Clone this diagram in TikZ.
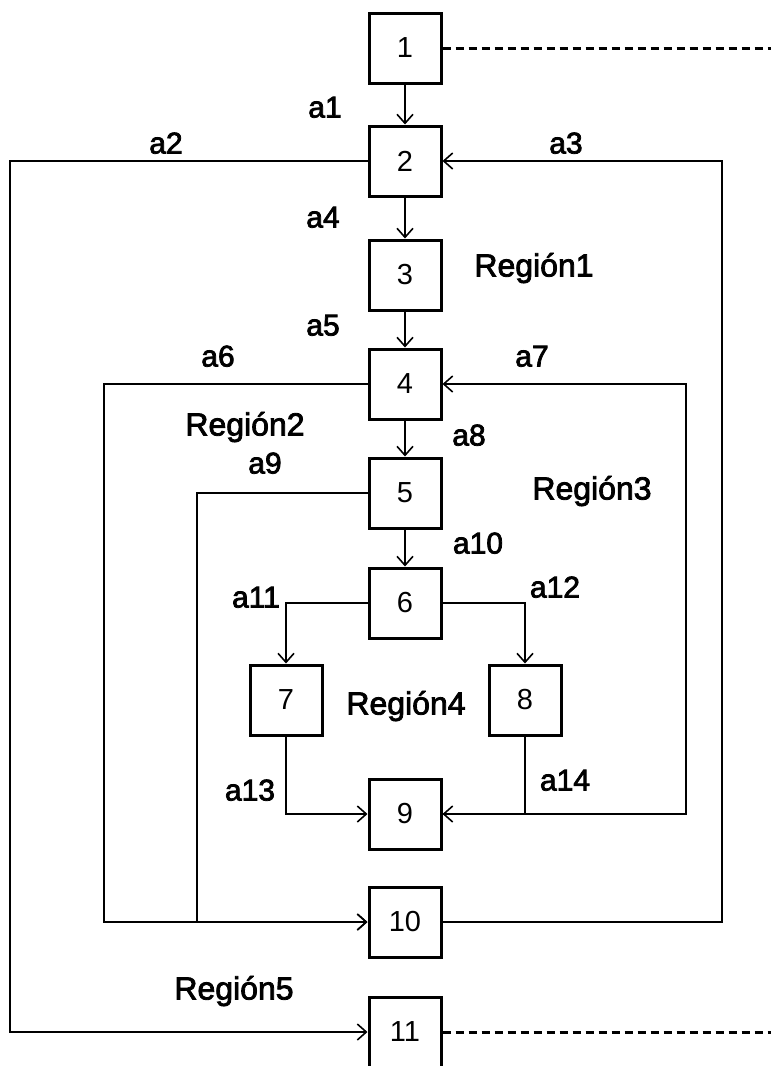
\documentclass[tikz,border=0pt]{standalone}
\usepackage{fontspec}
\setmainfont{Liberation Sans}
\newfontfamily\lblfont[FakeBold=2.5]{Liberation Sans}
\usetikzlibrary{arrows.meta}
\begin{document}
\begin{tikzpicture}[x=1pt,y=-1pt,
  box/.style={draw, line width=3pt, minimum width=72pt, minimum height=70pt, inner sep=0pt, font=\fontsize{29}{34}\selectfont},
  lbl/.style={inner sep=0pt, text height=21pt, text depth=0pt, font=\lblfont\fontsize{30}{36}\selectfont},
  rlbl/.style={inner sep=0pt, text height=23pt, text depth=0pt, font=\lblfont\fontsize{32}{38}\selectfont},
  conn/.style={line width=1.6pt},
  arr/.style={conn, -{Straight Barb[length=9pt,width=16pt]}},
  dashline/.style={line width=3pt, dash pattern=on 8pt off 5pt}
]
\useasboundingbox (0,0) rectangle (771,1066);
% boxes
\node[box] (n1) at (405,48) {1};
\node[box] (n2) at (405,161) {2};
\node[box] (n3) at (405,275) {3};
\node[box] (n4) at (405,384) {4};
\node[box] (n5) at (405,493) {5};
\node[box] (n6) at (405,603) {6};
\node[box] (n7) at (286,700) {7};
\node[box] (n8) at (525,700) {8};
\node[box] (n9) at (405,814) {9};
\node[box] (n10) at (405,922) {10};
\node[box] (n11) at (405,1032) {11};
% helper coordinates
\coordinate (cL2) at (10,600);
\coordinate (cR3) at (722,500);
\coordinate (cL6) at (104,600);
\coordinate (cL9) at (197,700);
\coordinate (cR7) at (686,600);
\coordinate (d1) at (771,48);
\coordinate (d11) at (771,1032);
% connectors
\draw[arr] (n1) -- (n2);
\draw[arr] (n2) -- (n3);
\draw[arr] (n3) -- (n4);
\draw[arr] (n4) -- (n5);
\draw[arr] (n5) -- (n6);
\draw[arr] (n2.west) -| (cL2) |- (n11.west);
\draw[arr] (n10.east) -| (cR3) |- (n2.east);
\draw[arr] (n4.west) -| (cL6) |- (n10.west);
\draw[arr] (n5.west) -| (cL9) |- (n10.west);
\draw[arr] (n9.east) -| (cR7) |- (n4.east);
\draw[arr] (n6.west) -| (n7.north);
\draw[arr] (n6.east) -| (n8.north);
\draw[arr] (n7.south) |- (n9.west);
\draw[arr] (n8.south) |- (n9.east);
\draw[dashline] (n1.east) -- (d1);
\draw[dashline] (n11.east) -- (d11);
% labels
\node[lbl] (la1) at (325,107) {a1};
\node[lbl] (la2) at (166,143) {a2};
\node[lbl] (la3) at (566,143) {a3};
\node[lbl] (la4) at (323,217) {a4};
\node[lbl] (la5) at (323,325) {a5};
\node[lbl] (la6) at (218,356) {a6};
\node[lbl] (la7) at (532,356) {a7};
\node[lbl] (la8) at (469,435) {a8};
\node[lbl] (la9) at (265,463) {a9};
\node[lbl] (la10) at (478,543) {a10};
\node[lbl] (la11) at (256,597) {a11};
\node[lbl] (la12) at (555,587) {a12};
\node[lbl] (la13) at (250,790) {a13};
\node[lbl] (la14) at (565,780) {a14};
\node[rlbl] (r1) at (534,265) {Región1};
\node[rlbl] (r2) at (245,424) {Región2};
\node[rlbl] (r3) at (592,488) {Región3};
\node[rlbl] (r4) at (406,703) {Región4};
\node[rlbl] (r5) at (234,988) {Región5};
\end{tikzpicture}
\end{document}
